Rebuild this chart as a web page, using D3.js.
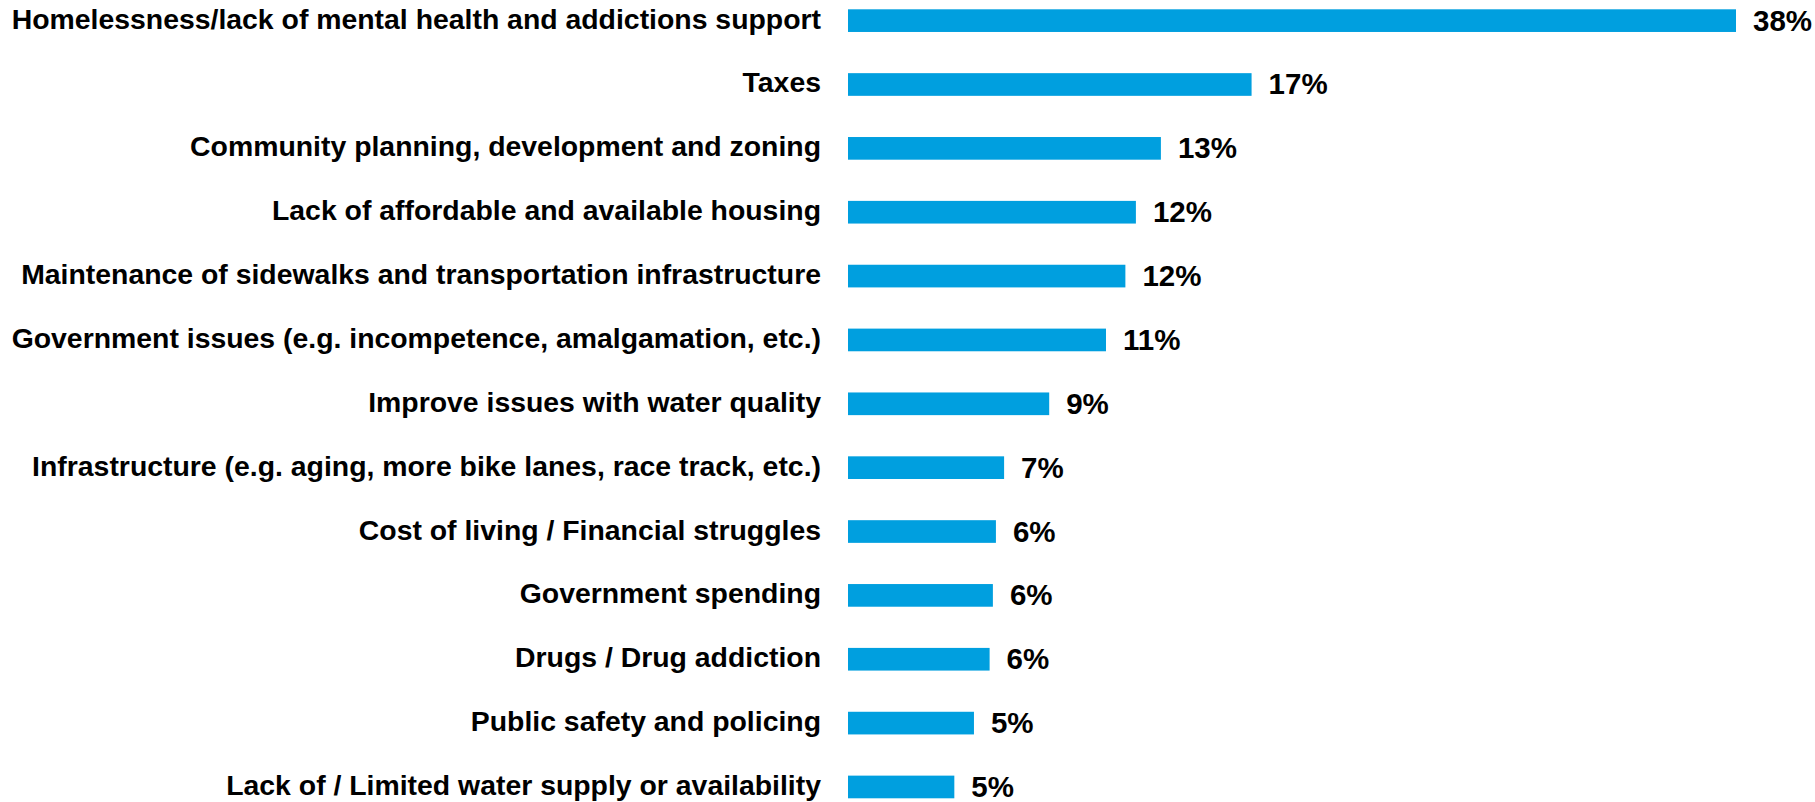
<!DOCTYPE html>
<html>
<head>
<meta charset="utf-8">
<script src="https://cdn.jsdelivr.net/npm/d3@7"></script>
<style>
  html, body { margin: 0; padding: 0; background: #ffffff; }
  svg { display: block; }
</style>
</head>
<body>
<svg id="chart" width="1815" height="802"></svg>
<script>
// Issues mentioned, share of respondents (%)
const categories = [
  "Homelessness/lack of mental health and addictions support",
  "Taxes",
  "Community planning, development and zoning",
  "Lack of affordable and available housing",
  "Maintenance of sidewalks and transportation infrastructure",
  "Government issues (e.g. incompetence, amalgamation, etc.)",
  "Improve issues with water quality",
  "Infrastructure (e.g. aging, more bike lanes, race track, etc.)",
  "Cost of living / Financial struggles",
  "Government spending",
  "Drugs / Drug addiction",
  "Public safety and policing",
  "Lack of / Limited water supply or availability"
];
const values = [38, 17.27, 13.39, 12.32, 11.87, 11.04, 8.61, 6.68, 6.33, 6.2, 6.06, 5.39, 4.55];

const svg = d3.select("#chart");

const x = d3.scaleLinear().domain([0, 38]).range([848, 1736]);
const y = d3.scaleBand()
  .domain(categories)
  .range([9.3, 798.3])
  .paddingInner(0.645)
  .paddingOuter(0);

const fmt = v => d3.format(".0f")(v) + "%";

const rows = svg.append("g").selectAll("g")
  .data(categories.map((c, i) => ({ c, v: values[i] })))
  .join("g");

rows.append("rect")
  .attr("x", x(0))
  .attr("y", d => y(d.c))
  .attr("width", d => x(d.v) - x(0))
  .attr("height", y.bandwidth())
  .attr("fill", "#009FDF");

rows.append("text")
  .attr("class", "cat")
  .attr("x", 821)
  .attr("y", d => y(d.c) + y.bandwidth() / 2 + 8)
  .attr("text-anchor", "end")
  .attr("font-family", "'Liberation Sans', Arial, sans-serif")
  .attr("font-weight", "bold")
  .attr("font-size", 28.4)
  .attr("fill", "#000")
  .text(d => d.c);

rows.append("text")
  .attr("x", d => x(d.v) + 17)
  .attr("y", d => y(d.c) + y.bandwidth() / 2 + 10)
  .attr("font-family", "'Liberation Sans', Arial, sans-serif")
  .attr("font-weight", "bold")
  .attr("font-size", 29.5)
  .attr("fill", "#000")
  .text(d => fmt(d.v));
</script>
</body>
</html>
